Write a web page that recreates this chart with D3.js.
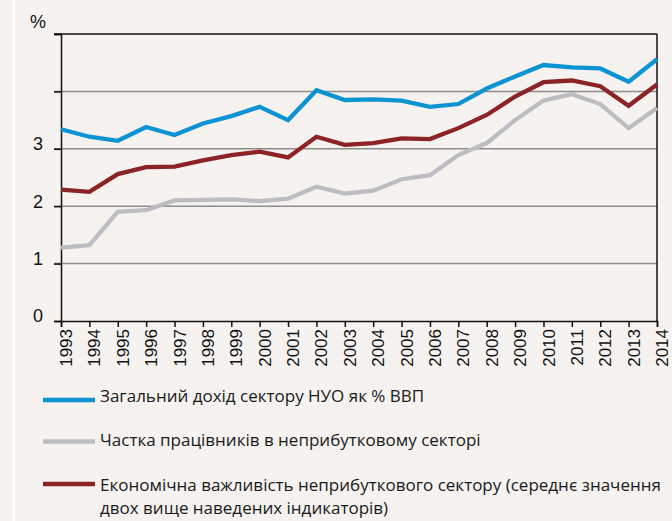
<!DOCTYPE html>
<html><head><meta charset="utf-8">
<script src="https://cdn.jsdelivr.net/npm/d3@7"></script>
<style>
html,body{margin:0;padding:0;background:#f5f2ef;}
svg{display:block;}
</style></head>
<body>
<script>
const years = d3.range(1993, 2015);
const incomeGDP = [3.34,3.21,3.14,3.38,3.24,3.44,3.57,3.73,3.50,4.02,3.85,3.86,3.84,3.73,3.78,4.05,4.26,4.46,4.42,4.40,4.17,4.56];
const employeeShare = [1.28,1.32,1.90,1.93,2.10,2.11,2.12,2.09,2.13,2.34,2.22,2.27,2.47,2.54,2.89,3.10,3.50,3.84,3.95,3.78,3.36,3.71];
const importance = [2.29,2.25,2.56,2.68,2.69,2.80,2.89,2.95,2.85,3.21,3.07,3.10,3.18,3.17,3.36,3.59,3.91,4.16,4.19,4.09,3.75,4.12];
const yTicks = [0,1,2,3,4,5];
const yTickLabels = ["0","1","2","3","",""];
const seriesNames = [
  ["Загальний дохід сектору НУО як % ВВП"],
  ["Частка працівників в неприбутковому секторі"],
  ["Економічна важливість неприбуткового сектору (середнє значення","двох вище наведених індикаторів)"]
];
const seriesColors = ["#0c93d2","#bcbdc1","#8c2327"];
const seriesData = [incomeGDP, employeeShare, importance];

const W = 672, H = 521;
const svg = d3.select("body").append("svg").attr("width", W).attr("height", H);
svg.append("rect").attr("width", W).attr("height", H).attr("fill", "#f5f2ef");
svg.append("rect").attr("x", 12.5).attr("y", 0).attr("width", 2.2).attr("height", H).attr("fill", "#ffffff");

const mLeft = 61, mRight = 657, mTop = 34, mBottom = 321;
const x = d3.scaleLinear().domain([1993, 2014]).range([mLeft, mRight]);
const y = d3.scaleLinear().domain([0, 5]).range([mBottom, mTop]);

// gridlines
svg.append("g").selectAll("line").data(yTicks.filter(v => v > 0 && v < 5)).join("line")
  .attr("x1", mLeft - 7).attr("x2", mRight)
  .attr("y1", d => y(d)).attr("y2", d => y(d))
  .attr("stroke", "#8d8d8d").attr("stroke-width", 1.5);

// left axis
const yAxis = d3.axisLeft(y).tickValues(yTicks).tickSize(7).tickFormat((d,i) => yTickLabels[i]);
const gy = svg.append("g").attr("transform", `translate(${mLeft},0)`).call(yAxis);
gy.select(".domain").attr("stroke", "#111").attr("stroke-width", 1.5);
gy.selectAll(".tick line").attr("stroke", "#111").attr("stroke-width", 1.5);
gy.selectAll(".tick text").attr("font-family", "'Liberation Sans', Arial, sans-serif")
  .attr("font-size", 18).attr("fill", "#111").attr("x", -18).attr("dy", "0.05em");

// top and right border
svg.append("line").attr("x1", mLeft - 7).attr("x2", mRight).attr("y1", mTop).attr("y2", mTop)
  .attr("stroke", "#111").attr("stroke-width", 1.5);
svg.append("line").attr("x1", mRight).attr("x2", mRight).attr("y1", mTop).attr("y2", mBottom)
  .attr("stroke", "#111").attr("stroke-width", 1.5);

// bottom axis
const xAxis = d3.axisBottom(x).tickValues(years).tickSize(6).tickFormat(d3.format("d"));
const gx = svg.append("g").attr("transform", `translate(0,${mBottom})`).call(xAxis);
gx.select(".domain").attr("stroke", "#111").attr("stroke-width", 1.5);
gx.selectAll(".tick line").attr("stroke", "#111").attr("stroke-width", 1.5);
gx.selectAll(".tick text")
  .attr("font-family", "'Liberation Sans', Arial, sans-serif").attr("font-size", 17).attr("fill", "#111")
  .attr("transform", "rotate(-90)").attr("text-anchor", "end")
  .attr("x", -8).attr("y", 0).attr("dy", "0.62em");

// % label
svg.append("text").attr("x", 46).attr("y", 28).attr("text-anchor", "end")
  .attr("font-family", "'Liberation Sans', Arial, sans-serif").attr("font-size", 18).attr("fill", "#111").text("%");

// lines
const line = d3.line().x((d,i) => x(years[i])).y(d => y(d));
svg.append("g").selectAll("path").data(seriesData).join("path")
  .attr("d", d => line(d)).attr("fill", "none")
  .attr("stroke", (d,i) => seriesColors[i]).attr("stroke-width", 4.3)
  .attr("stroke-linejoin", "miter");

// legend
const legY = [400, 441.5, 484];
const legTextY = [402, 446, 491];
const leg = svg.append("g");
seriesNames.forEach((lines, i) => {
  leg.append("line").attr("x1", 43).attr("x2", 95).attr("y1", legY[i]).attr("y2", legY[i])
    .attr("stroke", seriesColors[i]).attr("stroke-width", 4.3);
  lines.forEach((t, j) => {
    leg.append("text").attr("x", 100).attr("y", legTextY[i] + j * 23)
      .attr("font-family", "'Open Sans', sans-serif").attr("font-size", 17).attr("fill", "#1a1a1a")
      .text(t);
  });
});
</script>
</body></html>
